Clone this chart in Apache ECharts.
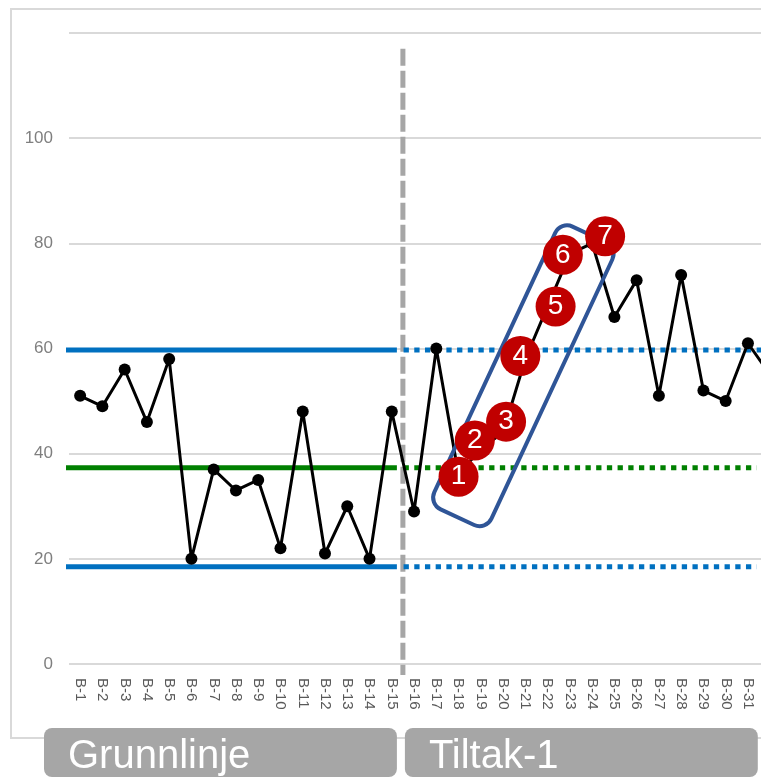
<!DOCTYPE html>
<html>
<head>
<meta charset="utf-8">
<script src="https://cdn.jsdelivr.net/npm/echarts@6/dist/echarts.min.js"></script>
<style>
  html, body { margin: 0; padding: 0; background: #ffffff; overflow: hidden; }
  #chart { width: 782px; height: 778px; }
</style>
</head>
<body>
<div id="chart"></div>
<script>
// Run chart: measurements per session, baseline phase then intervention phase
const categories = ['B-1','B-2','B-3','B-4','B-5','B-6','B-7','B-8','B-9','B-10','B-11','B-12','B-13','B-14','B-15','B-16',
  'B-17','B-18','B-19','B-20','B-21','B-22','B-23','B-24','B-25','B-26','B-27','B-28','B-29','B-30','B-31','B-32'];
const values = [51, 49, 56, 46, 58, 20, 37, 33, 35, 22, 48, 21, 30, 20, 48, 29,
  60, 36, 41, 44, 58, 68, 78, 80, 66, 73, 51, 74, 52, 50, 61, 55];
const yTicks = [0, 20, 40, 60, 80, 100, 120];

// Reference levels computed from the baseline phase
const upperLimit = 59.7;
const centerLine = 37.3;
const lowerLimit = 18.5;

// Phase layout
const baselineCount = 15;
const phaseNames = ['Grunnlinje', 'Tiltak-1'];

// Seven consecutive rising points (trend)
const trendStart = 17;
const trendLabels = ['1', '2', '3', '4', '5', '6', '7'];

// ---- styling / geometry helpers ----
const FONT = 'Liberation Sans';
const split = baselineCount - 0.5;          // boundary between phases on the index axis
const lineLeft = -1.67;                     // reference lines run slightly into the label gutter
const solidEnd = split - 0.27;
const dottedStart = split + 0.03;
const dottedEndShort = 30.4;
const dottedEndLong = categories.length - 0.5;
const badgeOffsets = [[0, 2], [-6, -8], [3, -11], [-5, -3], [8, 0], [-7, 1], [13, -7]];

const bandWidth = 22.26;
const gridLeft = 69;
const chartWidth = 782;
const gridRight = chartWidth - gridLeft - bandWidth * categories.length;

function refLine(y, x0, x1, color, dash) {
  return {
    type: 'line',
    xAxisIndex: 1,
    yAxisIndex: 0,
    data: [[x0, y], [x1, y]],
    symbol: 'none',
    clip: false,
    silent: true,
    z: 1,
    lineStyle: { color: color, width: 5, type: dash ? [5.3, 5.4] : 'solid', cap: 'butt' }
  };
}

const trendData = trendLabels.map((t, i) => ({
  value: [trendStart + i, values[trendStart + i]],
  symbolOffset: badgeOffsets[i],
  label: { formatter: t }
}));

const chart = echarts.init(document.getElementById('chart'), null, { renderer: 'canvas' });

chart.setOption({
  animation: false,
  backgroundColor: '#ffffff',
  grid: { left: gridLeft, right: gridRight, top: 33, bottom: 114, containLabel: false },
  xAxis: [
    {
      type: 'category',
      data: categories,
      boundaryGap: true,
      axisLine: { show: false },
      axisTick: { show: false },
      splitLine: { show: false },
      axisLabel: { rotate: -90, interval: 0, margin: 14, color: '#595959', fontSize: 15, fontFamily: FONT }
    },
    {
      type: 'value',
      show: false,
      min: -0.5,
      max: categories.length - 0.5
    }
  ],
  yAxis: {
    type: 'value',
    min: yTicks[0],
    max: yTicks[yTicks.length - 1],
    interval: yTicks[1] - yTicks[0],
    axisLine: { show: false },
    axisTick: { show: false },
    splitLine: { lineStyle: { color: '#d9d9d9', width: 2 } },
    axisLabel: { showMaxLabel: false, margin: 16, color: '#7f7f7f', fontSize: 17, fontFamily: FONT }
  },
  series: [
    // phase change line
    {
      type: 'line',
      xAxisIndex: 1,
      yAxisIndex: 0,
      data: [[split, 117], [split, -2.1]],
      symbol: 'none',
      clip: false,
      silent: true,
      z: 1,
      lineStyle: { color: '#a6a6a6', width: 5, type: [17, 5], cap: 'butt' }
    },
    refLine(upperLimit, lineLeft, solidEnd, '#0070c0', false),
    refLine(upperLimit, dottedStart, dottedEndLong, '#0070c0', true),
    refLine(centerLine, lineLeft, solidEnd, '#008000', false),
    refLine(centerLine, dottedStart, dottedEndShort, '#008000', true),
    refLine(lowerLimit, lineLeft, solidEnd, '#0070c0', false),
    refLine(lowerLimit, dottedStart, dottedEndShort, '#0070c0', true),
    // measurements
    {
      type: 'line',
      data: values,
      symbol: 'circle',
      symbolSize: 12,
      z: 3,
      itemStyle: { color: '#000000' },
      lineStyle: { color: '#000000', width: 3 }
    },
    // numbered trend badges
    {
      type: 'scatter',
      data: trendData,
      symbol: 'circle',
      symbolSize: 40,
      z: 10,
      itemStyle: { color: '#c00000', opacity: 1 },
      label: { show: true, position: 'inside', color: '#ffffff', fontSize: 28, fontFamily: FONT }
    }
  ]
});

// Annotations placed relative to the axes
const splitPx = chart.convertToPixel({ xAxisIndex: 1, yAxisIndex: 0 }, [split, 0])[0];
let cx = 0, cy = 0;
trendLabels.forEach((t, i) => {
  const p = chart.convertToPixel({ xAxisIndex: 0, yAxisIndex: 0 }, [trendStart + i, values[trendStart + i]]);
  cx += p[0]; cy += p[1];
});
cx = cx / trendLabels.length - 2;
cy = cy / trendLabels.length + 16;

const boxLeft = 44;
const boxWidth = splitPx - 6 - boxLeft;
const boxTop = 728;
const boxHeight = 49;

chart.setOption({
  graphic: [
    {
      type: 'rect', z: 0, silent: true,
      shape: { x: 11, y: 9, width: 800, height: 729 },
      style: { fill: 'none', stroke: '#d9d9d9', lineWidth: 2 }
    },
    {
      type: 'rect', z: 5, silent: true,
      x: cx, y: cy,
      rotation: 65 * Math.PI / 180,
      shape: { x: -156, y: -31.5, width: 312, height: 63, r: 13 },
      style: { fill: 'none', stroke: '#2f5597', lineWidth: 4 }
    },
    {
      type: 'rect', z: 1, silent: true,
      shape: { x: boxLeft, y: boxTop, width: boxWidth, height: boxHeight, r: 8 },
      style: { fill: '#a6a6a6' }
    },
    {
      type: 'rect', z: 1, silent: true,
      shape: { x: splitPx + 2, y: boxTop, width: boxWidth, height: boxHeight, r: 8 },
      style: { fill: '#a6a6a6' }
    },
    {
      type: 'text', z: 2, silent: true,
      style: { x: boxLeft + 24, y: 757, text: phaseNames[0], fill: '#ffffff',
               font: '40px "' + FONT + '"', verticalAlign: 'middle' }
    },
    {
      type: 'text', z: 2, silent: true,
      style: { x: splitPx + 26, y: 757, text: phaseNames[1], fill: '#ffffff',
               font: '40px "' + FONT + '"', verticalAlign: 'middle' }
    }
  ]
});
</script>
</body>
</html>
